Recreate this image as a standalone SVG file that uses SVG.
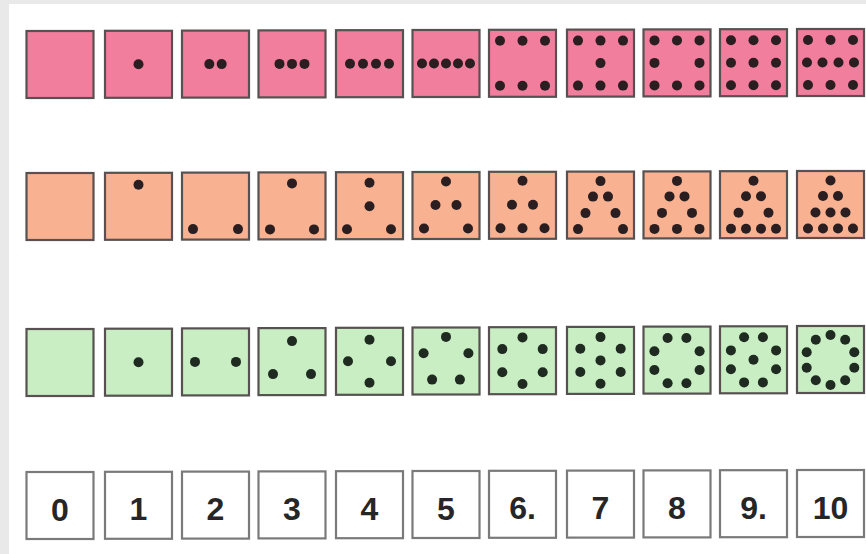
<svg xmlns="http://www.w3.org/2000/svg" width="866" height="554" viewBox="0 0 866 554">
<style>
.b{stroke:#575151;stroke-width:2.2}
.pk .b{fill:#f27e9e}
.or .b{fill:#f8b292}
.gr .b{fill:#c9eec3}
.nm .b{fill:#fff;stroke:#7a7a7a}
circle{fill:#2a1e20}
.gr circle{fill:#1f2a20}
text{font-family:"Liberation Sans",Arial,sans-serif;font-weight:bold;font-size:32px;fill:#262626;text-anchor:middle}
</style>
<rect width="866" height="554" fill="#e9e9e9"/>
<rect x="9" y="4" width="857" height="550" fill="#fff"/>
<g id="pink-row">
<g id="pink-0" class="pk" transform="translate(26.5,31)"><rect class="b" width="67" height="67"/></g>
<g id="pink-1" class="pk" transform="translate(105,30.8)"><rect class="b" width="67" height="67"/><circle cx="33.5" cy="33.5" r="5"/></g>
<g id="pink-2" class="pk" transform="translate(182,30.6)"><rect class="b" width="67" height="67"/><circle cx="27.3" cy="33.5" r="5"/><circle cx="39.7" cy="33.5" r="5"/></g>
<g id="pink-3" class="pk" transform="translate(258.5,30.4)"><rect class="b" width="67" height="67"/><circle cx="21" cy="33.5" r="5"/><circle cx="33.5" cy="33.5" r="5"/><circle cx="46" cy="33.5" r="5"/></g>
<g id="pink-4" class="pk" transform="translate(336,30.2)"><rect class="b" width="67" height="67"/><circle cx="14" cy="33.5" r="5"/><circle cx="27" cy="33.5" r="5"/><circle cx="40" cy="33.5" r="5"/><circle cx="53" cy="33.5" r="5"/></g>
<g id="pink-5" class="pk" transform="translate(412.5,30)"><rect class="b" width="67" height="67"/><circle cx="9.5" cy="33.5" r="5"/><circle cx="21.5" cy="33.5" r="5"/><circle cx="33.5" cy="33.5" r="5"/><circle cx="45.5" cy="33.5" r="5"/><circle cx="57.5" cy="33.5" r="5"/></g>
<g id="pink-6" class="pk" transform="translate(489,29.8)"><rect class="b" width="67" height="67"/><circle cx="11" cy="11" r="5"/><circle cx="33.5" cy="11" r="5"/><circle cx="56" cy="11" r="5"/><circle cx="11" cy="56" r="5"/><circle cx="33.5" cy="56" r="5"/><circle cx="56" cy="56" r="5"/></g>
<g id="pink-7" class="pk" transform="translate(567,29.6)"><rect class="b" width="67" height="67"/><circle cx="11" cy="11" r="5"/><circle cx="33.5" cy="11" r="5"/><circle cx="56" cy="11" r="5"/><circle cx="33.5" cy="33.5" r="5"/><circle cx="11" cy="56" r="5"/><circle cx="33.5" cy="56" r="5"/><circle cx="56" cy="56" r="5"/></g>
<g id="pink-8" class="pk" transform="translate(643.5,29.4)"><rect class="b" width="67" height="67"/><circle cx="11" cy="11" r="5"/><circle cx="33.5" cy="11" r="5"/><circle cx="56" cy="11" r="5"/><circle cx="11" cy="33.5" r="5"/><circle cx="56" cy="33.5" r="5"/><circle cx="11" cy="56" r="5"/><circle cx="33.5" cy="56" r="5"/><circle cx="56" cy="56" r="5"/></g>
<g id="pink-9" class="pk" transform="translate(720,29.2)"><rect class="b" width="67" height="67"/><circle cx="11" cy="11" r="5"/><circle cx="33.5" cy="11" r="5"/><circle cx="56" cy="11" r="5"/><circle cx="11" cy="33.5" r="5"/><circle cx="33.5" cy="33.5" r="5"/><circle cx="56" cy="33.5" r="5"/><circle cx="11" cy="56" r="5"/><circle cx="33.5" cy="56" r="5"/><circle cx="56" cy="56" r="5"/></g>
<g id="pink-10" class="pk" transform="translate(797,29)"><rect class="b" width="67" height="67"/><circle cx="11" cy="11" r="5"/><circle cx="33.5" cy="11" r="5"/><circle cx="56" cy="11" r="5"/><circle cx="10" cy="33.5" r="5"/><circle cx="25.5" cy="33.5" r="5"/><circle cx="41.5" cy="33.5" r="5"/><circle cx="57" cy="33.5" r="5"/><circle cx="11" cy="56" r="5"/><circle cx="33.5" cy="56" r="5"/><circle cx="56" cy="56" r="5"/></g>
</g>
<g id="orange-row">
<g id="orange-0" class="or" transform="translate(26.5,173)"><rect class="b" width="67" height="67"/></g>
<g id="orange-1" class="or" transform="translate(105,172.8)"><rect class="b" width="67" height="67"/><circle cx="33.5" cy="12" r="5"/></g>
<g id="orange-2" class="or" transform="translate(182,172.6)"><rect class="b" width="67" height="67"/><circle cx="11" cy="56.5" r="5"/><circle cx="56" cy="56.5" r="5"/></g>
<g id="orange-3" class="or" transform="translate(258.5,172.4)"><rect class="b" width="67" height="67"/><circle cx="33.5" cy="11" r="5"/><circle cx="11.5" cy="57" r="5"/><circle cx="55.5" cy="57" r="5"/></g>
<g id="orange-4" class="or" transform="translate(336,172.2)"><rect class="b" width="67" height="67"/><circle cx="33.5" cy="10.5" r="5"/><circle cx="33.5" cy="34" r="5"/><circle cx="11" cy="57" r="5"/><circle cx="55" cy="57" r="5"/></g>
<g id="orange-5" class="or" transform="translate(412.5,172)"><rect class="b" width="67" height="67"/><circle cx="33.5" cy="9.5" r="5"/><circle cx="23" cy="33" r="5"/><circle cx="44" cy="33" r="5"/><circle cx="11.5" cy="56.5" r="5"/><circle cx="55.5" cy="56.5" r="5"/></g>
<g id="orange-6" class="or" transform="translate(489,171.8)"><rect class="b" width="67" height="67"/><circle cx="33.5" cy="9" r="5"/><circle cx="23" cy="33" r="5"/><circle cx="44" cy="33" r="5"/><circle cx="11.5" cy="56.5" r="5"/><circle cx="33.5" cy="56.5" r="5"/><circle cx="55.5" cy="56.5" r="5"/></g>
<g id="orange-7" class="or" transform="translate(567,171.6)"><rect class="b" width="67" height="67"/><circle cx="33.5" cy="9.5" r="5"/><circle cx="26" cy="25" r="5"/><circle cx="41" cy="25" r="5"/><circle cx="18.5" cy="41.5" r="5"/><circle cx="48.5" cy="41.5" r="5"/><circle cx="11" cy="57.5" r="5"/><circle cx="56" cy="57.5" r="5"/></g>
<g id="orange-8" class="or" transform="translate(643.5,171.4)"><rect class="b" width="67" height="67"/><circle cx="33.5" cy="9.5" r="5"/><circle cx="26" cy="25" r="5"/><circle cx="41" cy="25" r="5"/><circle cx="18.5" cy="41.5" r="5"/><circle cx="48.5" cy="41.5" r="5"/><circle cx="11" cy="57.5" r="5"/><circle cx="33.5" cy="57.5" r="5"/><circle cx="56" cy="57.5" r="5"/></g>
<g id="orange-9" class="or" transform="translate(720,171.2)"><rect class="b" width="67" height="67"/><circle cx="33.5" cy="9.5" r="5"/><circle cx="26" cy="25" r="5"/><circle cx="41" cy="25" r="5"/><circle cx="18.5" cy="41.5" r="5"/><circle cx="48.5" cy="41.5" r="5"/><circle cx="11" cy="57.5" r="5"/><circle cx="26" cy="57.5" r="5"/><circle cx="41" cy="57.5" r="5"/><circle cx="56" cy="57.5" r="5"/></g>
<g id="orange-10" class="or" transform="translate(797,171)"><rect class="b" width="67" height="67"/><circle cx="33.5" cy="9.5" r="5"/><circle cx="26" cy="25" r="5"/><circle cx="41" cy="25" r="5"/><circle cx="18.5" cy="41.5" r="5"/><circle cx="33.5" cy="41.5" r="5"/><circle cx="48.5" cy="41.5" r="5"/><circle cx="11" cy="57.5" r="5"/><circle cx="26" cy="57.5" r="5"/><circle cx="41" cy="57.5" r="5"/><circle cx="56" cy="57.5" r="5"/></g>
</g>
<g id="green-row">
<g id="green-0" class="gr" transform="translate(26.5,329)"><rect class="b" width="67" height="67"/></g>
<g id="green-1" class="gr" transform="translate(105,328.7)"><rect class="b" width="67" height="67"/><circle cx="33.5" cy="33.5" r="5"/></g>
<g id="green-2" class="gr" transform="translate(182,328.4)"><rect class="b" width="67" height="67"/><circle cx="13" cy="33.5" r="5"/><circle cx="54" cy="33.5" r="5"/></g>
<g id="green-3" class="gr" transform="translate(258.5,328.1)"><rect class="b" width="67" height="67"/><circle cx="33.5" cy="13" r="5"/><circle cx="14.5" cy="46" r="5"/><circle cx="52.5" cy="46" r="5"/></g>
<g id="green-4" class="gr" transform="translate(336,327.8)"><rect class="b" width="67" height="67"/><circle cx="33.5" cy="12" r="5"/><circle cx="12" cy="33.5" r="5"/><circle cx="55" cy="33.5" r="5"/><circle cx="33.5" cy="55" r="5"/></g>
<g id="green-5" class="gr" transform="translate(412.5,327.5)"><rect class="b" width="67" height="67"/><circle cx="33.5" cy="9.4" r="5"/><circle cx="11.1" cy="25.7" r="5"/><circle cx="55.9" cy="25.7" r="5"/><circle cx="19.6" cy="52.1" r="5"/><circle cx="47.4" cy="52.1" r="5"/></g>
<g id="green-6" class="gr" transform="translate(489,327.2)"><rect class="b" width="67" height="67"/><circle cx="33.5" cy="10.2" r="5"/><circle cx="13.3" cy="21.9" r="5"/><circle cx="53.7" cy="21.9" r="5"/><circle cx="13.3" cy="45.1" r="5"/><circle cx="53.7" cy="45.1" r="5"/><circle cx="33.5" cy="56.8" r="5"/></g>
<g id="green-7" class="gr" transform="translate(567,326.9)"><rect class="b" width="67" height="67"/><circle cx="33.5" cy="10.2" r="5"/><circle cx="13.3" cy="21.9" r="5"/><circle cx="53.7" cy="21.9" r="5"/><circle cx="33.5" cy="33.5" r="5"/><circle cx="13.3" cy="45.1" r="5"/><circle cx="53.7" cy="45.1" r="5"/><circle cx="33.5" cy="56.8" r="5"/></g>
<g id="green-8" class="gr" transform="translate(643.5,326.6)"><rect class="b" width="67" height="67"/><circle cx="24.1" cy="11.4" r="5"/><circle cx="42.9" cy="11.4" r="5"/><circle cx="10.9" cy="24.6" r="5"/><circle cx="56.1" cy="24.6" r="5"/><circle cx="10.9" cy="43.4" r="5"/><circle cx="56.1" cy="43.4" r="5"/><circle cx="24.1" cy="56.6" r="5"/><circle cx="42.9" cy="56.6" r="5"/></g>
<g id="green-9" class="gr" transform="translate(720,326.3)"><rect class="b" width="67" height="67"/><circle cx="24.1" cy="10.9" r="5"/><circle cx="42.9" cy="10.9" r="5"/><circle cx="10.9" cy="24.1" r="5"/><circle cx="56.1" cy="24.1" r="5"/><circle cx="33.5" cy="33.5" r="5"/><circle cx="10.9" cy="42.9" r="5"/><circle cx="56.1" cy="42.9" r="5"/><circle cx="24.1" cy="56.1" r="5"/><circle cx="42.9" cy="56.1" r="5"/></g>
<g id="green-10" class="gr" transform="translate(797,326)"><rect class="b" width="67" height="67"/><circle cx="33.5" cy="9" r="5"/><circle cx="18.8" cy="13.8" r="5"/><circle cx="48.2" cy="13.8" r="5"/><circle cx="9.7" cy="26.3" r="5"/><circle cx="57.3" cy="26.3" r="5"/><circle cx="9.7" cy="41.7" r="5"/><circle cx="57.3" cy="41.7" r="5"/><circle cx="18.8" cy="54.2" r="5"/><circle cx="48.2" cy="54.2" r="5"/><circle cx="33.5" cy="59" r="5"/></g>
</g>
<g id="number-row">
<g id="num-0" class="nm" transform="translate(26.5,472)"><rect class="b" width="67" height="67"/><text x="33.5" y="48.5">0</text></g>
<g id="num-1" class="nm" transform="translate(105,471.8)"><rect class="b" width="67" height="67"/><text x="33.5" y="48.5">1</text></g>
<g id="num-2" class="nm" transform="translate(182,471.6)"><rect class="b" width="67" height="67"/><text x="33.5" y="48.5">2</text></g>
<g id="num-3" class="nm" transform="translate(258.5,471.4)"><rect class="b" width="67" height="67"/><text x="33.5" y="48.5">3</text></g>
<g id="num-4" class="nm" transform="translate(336,471.2)"><rect class="b" width="67" height="67"/><text x="33.5" y="48.5">4</text></g>
<g id="num-5" class="nm" transform="translate(412.5,471)"><rect class="b" width="67" height="67"/><text x="33.5" y="48.5">5</text></g>
<g id="num-6" class="nm" transform="translate(489,470.8)"><rect class="b" width="67" height="67"/><text x="33.5" y="48.5">6.</text></g>
<g id="num-7" class="nm" transform="translate(567,470.6)"><rect class="b" width="67" height="67"/><text x="33.5" y="48.5">7</text></g>
<g id="num-8" class="nm" transform="translate(643.5,470.4)"><rect class="b" width="67" height="67"/><text x="33.5" y="48.5">8</text></g>
<g id="num-9" class="nm" transform="translate(720,470.2)"><rect class="b" width="67" height="67"/><text x="33.5" y="48.5">9.</text></g>
<g id="num-10" class="nm" transform="translate(797,470)"><rect class="b" width="67" height="67"/><text x="33.5" y="48.5">10</text></g>
</g>
</svg>
